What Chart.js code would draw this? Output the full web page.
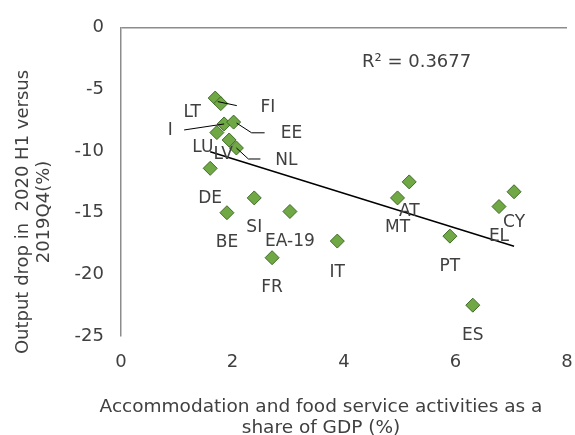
<!DOCTYPE html>
<html>
<head>
<meta charset="utf-8">
<script src="https://cdn.jsdelivr.net/npm/chart.js@4/dist/chart.umd.min.js"></script>
<style>
  html, body { margin: 0; padding: 0; background: #fff; }
</style>
</head>
<body>
<canvas id="chart" width="575" height="435"></canvas>
<script>
// country codes as labelled in the chart
var countries = ['LT', 'FI', 'I', 'EE', 'LU', 'LV', 'NL', 'DE', 'SI', 'BE', 'EA-19', 'IT', 'FR', 'AT', 'MT', 'PT', 'CY', 'EL', 'ES'];
// accommodation and food services, % of GDP
var foodShare = [1.69, 1.79, 1.85, 2.02, 1.72, 1.94, 2.07, 1.60, 2.39, 1.90, 3.03, 3.88, 2.71, 5.17, 4.96, 5.90, 7.05, 6.78, 6.31];
// output drop 2020 H1 vs 2019Q4, %
var outputDrop = [-5.7, -6.15, -7.8, -7.65, -8.5, -9.1, -9.75, -11.4, -13.8, -15.0, -14.9, -17.3, -18.65, -12.5, -13.8, -16.9, -13.3, -14.5, -22.5];
// linear trend line end points
var trendX = [1.60, 7.05];
var trendY = [-10.05, -17.72];
var rSquared = 'R\u00b2 = 0.3677';
var yTitle = ['Output drop in  2020 H1 versus', '2019Q4(%)'];
var xTitle = ['Accommodation and food service activities as a', 'share of GDP (%)'];

var textColor = '#404040';
var axisColor = '#8c8c8c';

// where each label sits relative to its marker (px), default is below
var labelOffset = {
  'LT': [-23, 15], 'FI': [47, 4], 'I': [-54, 7], 'EE': [58, 11.5],
  'LU': [-14, 14.5], 'LV': [-6, 15], 'NL': [50, 12.7],
  'IT': [0, 32], 'CY': [0, 31]
};
// leader lines for the labels that were dragged away
var leaders = {
  'FI': [[-3, -2], [16, 2]],
  'I': [[-40, 6], [0, 0]],
  'EE': [[3, 1], [18, 10.7], [31, 10.7]],
  'NL': [[0, 0], [12, 11], [24, 11]]
};

var scatterData = foodShare.map(function(x, i) { return {x: x, y: outputDrop[i]}; });
var trendData = trendX.map(function(x, i) { return {x: x, y: trendY[i]}; });

var labelPlugin = {
  id: 'labels',
  afterDatasetsDraw: function(chart) {
    var ctx = chart.ctx;
    var meta = chart.getDatasetMeta(1);
    ctx.save();
    ctx.strokeStyle = '#000';
    ctx.lineWidth = 1;
    meta.data.forEach(function(pt, i) {
      var lead = leaders[countries[i]];
      if (!lead) return;
      ctx.beginPath();
      lead.forEach(function(p, j) {
        if (j === 0) ctx.moveTo(pt.x + p[0], pt.y + p[1]);
        else ctx.lineTo(pt.x + p[0], pt.y + p[1]);
      });
      ctx.stroke();
    });
    ctx.font = '17px "DejaVu Sans"';
    ctx.fillStyle = textColor;
    ctx.textAlign = 'center';
    ctx.textBaseline = 'middle';
    meta.data.forEach(function(pt, i) {
      var off = labelOffset[countries[i]] || [0, 30];
      ctx.fillText(countries[i], pt.x + off[0], pt.y + off[1]);
    });
    ctx.restore();
  },
  afterDraw: function(chart) {
    var ctx = chart.ctx;
    var area = chart.chartArea;
    ctx.save();
    ctx.fillStyle = textColor;
    ctx.font = '18px "DejaVu Sans"';
    ctx.textAlign = 'left';
    ctx.textBaseline = 'middle';
    ctx.fillText(rSquared, area.left + 241, area.top + 35);

    // x axis title
    ctx.font = '18.5px "DejaVu Sans"';
    ctx.textAlign = 'center';
    ctx.textBaseline = 'alphabetic';
    ctx.fillText(xTitle[0], 321, 411.5);
    ctx.fillText(xTitle[1], 321, 433);

    // y axis title
    ctx.font = '18px "DejaVu Sans"';
    ctx.translate(0, 212);
    ctx.rotate(-Math.PI / 2);
    ctx.textBaseline = 'middle';
    ctx.fillText(yTitle[0], 0, 23);
    ctx.fillText(yTitle[1], 0, 44);
    ctx.restore();
  }
};

var ctx = document.getElementById('chart');
var chart = new Chart(ctx, {
  type: 'scatter',
  data: {
    datasets: [{
      type: 'line',
      data: trendData,
      borderColor: '#000',
      borderWidth: 1.5,
      pointRadius: 0,
      fill: false
    }, {
      data: scatterData,
      pointStyle: 'rectRot',
      pointRadius: 7,
      pointHoverRadius: 7,
      backgroundColor: '#70a845',
      borderColor: '#3e6b25',
      borderWidth: 1
    }]
  },
  options: {
    responsive: false,
    animation: false,
    events: [],
    layout: { padding: { top: 26, right: 8, bottom: 0, left: 0 } },
    plugins: {
      legend: { display: false },
      tooltip: { enabled: false }
    },
    scales: {
      x: {
        type: 'linear',
        min: 0,
        max: 8,
        afterFit: function(scale) {
          scale.height = 99;
          scale.paddingLeft = 0;
          scale.paddingRight = 0;
        },
        ticks: {
          stepSize: 2,
          padding: 16,
          color: textColor,
          font: { family: 'DejaVu Sans', size: 18 }
        },
        grid: { display: false, drawTicks: false },
        border: { display: false }
      },
      y: {
        min: -25,
        max: 0,
        afterFit: function(scale) { scale.width = 121; },
        ticks: {
          stepSize: 5,
          padding: 17,
          color: textColor,
          font: { family: 'DejaVu Sans', size: 18 }
        },
        grid: {
          drawTicks: false,
          lineWidth: 1.5,
          color: function(c) { return c.tick && c.tick.value === 0 ? axisColor : 'rgba(0,0,0,0)'; }
        },
        border: { display: true, color: axisColor, width: 1.5 }
      }
    }
  },
  plugins: [labelPlugin]
});
</script>
</body>
</html>
